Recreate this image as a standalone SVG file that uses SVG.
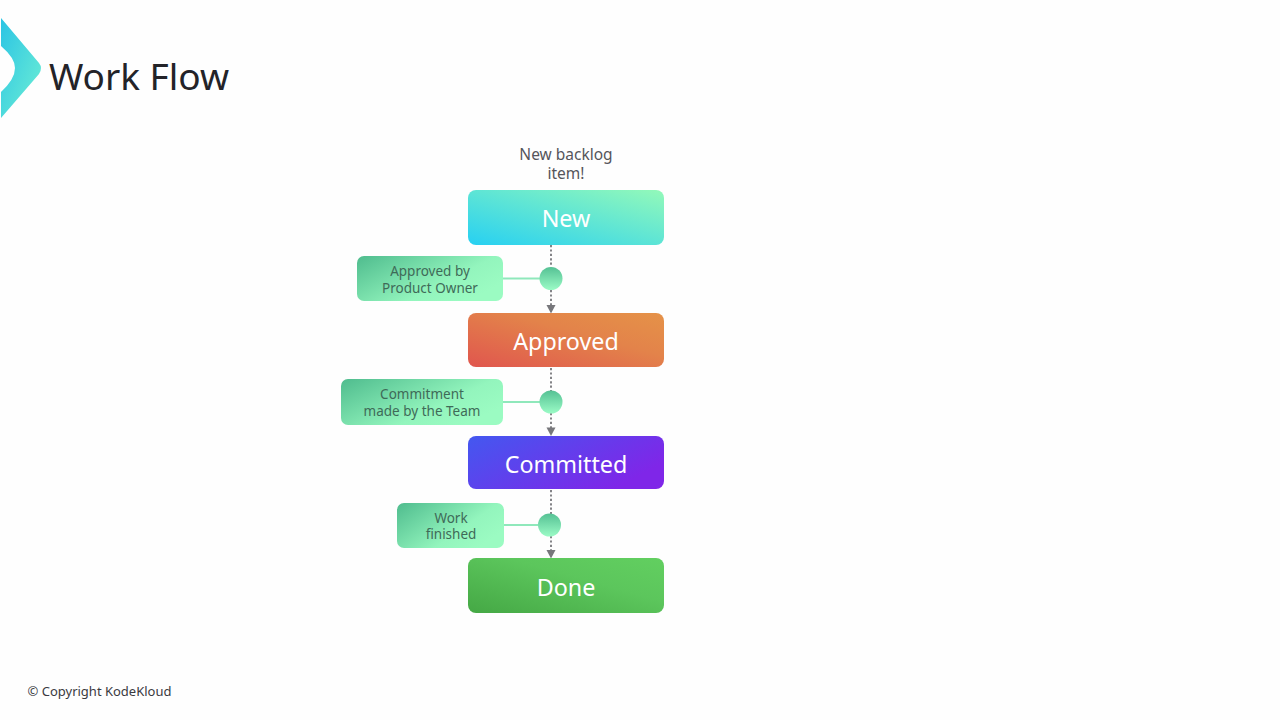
<svg xmlns="http://www.w3.org/2000/svg" width="1280" height="720" viewBox="0 0 1280 720">
<style>
text{font-family:"Noto Sans","Open Sans","DejaVu Sans",sans-serif;text-anchor:middle}
.st{fill:#fff;font-size:23.300px}
.lb{fill:#3f6a58;font-size:13.500px}
.dot{stroke:#77777b;stroke-width:1.800;stroke-dasharray:2.200 2.200;fill:none}
.tie{stroke:#8fe8bb;stroke-width:2;fill:none}
.cir{fill:url(#gc)}
.tag{fill:url(#gt)}
.ah{fill:#77777b}
</style>
<defs>
<linearGradient id="gl" x1="0" y1="0" x2="1" y2="1"><stop offset="0" stop-color="#2bc4e4"/><stop offset="1" stop-color="#6ff0d4"/></linearGradient>
<linearGradient id="gn" x1="0" y1="1" x2="1" y2="0"><stop offset="0" stop-color="#27d0f2"/><stop offset="1" stop-color="#93f9b9"/></linearGradient>
<linearGradient id="ga" x1="0" y1="1" x2="1" y2="0"><stop offset="0" stop-color="#e0564e"/><stop offset="0.6" stop-color="#e3834a"/><stop offset="1" stop-color="#e59248"/></linearGradient>
<linearGradient id="gm" x1="0" y1="0" x2="1" y2="0.5"><stop offset="0" stop-color="#4358f0"/><stop offset="1" stop-color="#7f26e8"/></linearGradient>
<linearGradient id="gd" x1="0" y1="1" x2="1" y2="0"><stop offset="0" stop-color="#45a845"/><stop offset="0.6" stop-color="#5cc65c"/><stop offset="1" stop-color="#62cf60"/></linearGradient>
<linearGradient id="gt" x1="0" y1="0" x2="1" y2="0.6"><stop offset="0" stop-color="#4fbc8e"/><stop offset="0.7" stop-color="#93f5bd"/><stop offset="1" stop-color="#9bfbc2"/></linearGradient>
<linearGradient id="gc" x1="0" y1="0" x2="0" y2="1"><stop offset="0" stop-color="#55c194"/><stop offset="1" stop-color="#9bfbc6"/></linearGradient>
</defs>
<rect width="1280" height="720" fill="#fefefe"/>
<path id="logo" d="M1 18 L39 63 Q43 68 39 74 L1 118 V92 Q15 79 15 68 Q15 58 1 46Z" fill="url(#gl)"/>
<text id="title" x="139" y="90" style="font-size:37px;fill:#232328">Work Flow</text>
<text id="note" style="font-size:15.500px;fill:#55555b"><tspan x="566" y="160">New backlog</tspan><tspan x="566" y="179">item!</tspan></text>
<g id="connectors">
<path class="dot" d="M551 245V267"/><path class="dot" d="M551 290V306"/><path class="ah" d="M546.500 305H555.500L551 313.500Z"/>
<path class="dot" d="M551 368V391"/><path class="dot" d="M551 413V428"/><path class="ah" d="M546.500 427.500H555.500L551 436Z"/>
<path class="dot" d="M551 490V514"/><path class="dot" d="M551 536V550"/><path class="ah" d="M546.500 550H555.500L551 558.500Z"/>
<path class="tie" d="M503 278.500H540"/><path class="tie" d="M503 402H540"/><path class="tie" d="M504 525H538"/>
</g>
<g id="node-new"><rect x="468" y="190" width="196" height="55" rx="8" fill="url(#gn)"/><text class="st" x="566" y="226.500">New</text></g>
<g id="node-approved"><rect x="468" y="313" width="196" height="54" rx="8" fill="url(#ga)"/><text class="st" x="566" y="350">Approved</text></g>
<g id="node-committed"><rect x="468" y="436" width="196" height="53" rx="8" fill="url(#gm)"/><text class="st" x="566" y="472.500">Committed</text></g>
<g id="node-done"><rect x="468" y="558" width="196" height="55" rx="8" fill="url(#gd)"/><text class="st" x="566" y="595.500">Done</text></g>
<g id="tag-po"><rect class="tag" x="357" y="256" width="146" height="45" rx="7"/><text class="lb"><tspan x="430" y="276">Approved by</tspan><tspan x="430" y="292.500">Product Owner</tspan></text></g>
<g id="tag-team"><rect class="tag" x="341" y="379" width="162" height="46" rx="7"/><text class="lb"><tspan x="422" y="399">Commitment</tspan><tspan x="422" y="416">made by the Team</tspan></text></g>
<g id="tag-work"><rect class="tag" x="397" y="503" width="107" height="45" rx="7"/><text class="lb"><tspan x="451" y="522.500">Work</tspan><tspan x="451" y="539">finished</tspan></text></g>
<g id="dot-1"><circle class="cir" cx="551" cy="278.500" r="11.500"/></g>
<g id="dot-2"><circle class="cir" cx="551" cy="402" r="11.500"/></g>
<g id="dot-3"><circle class="cir" cx="549.500" cy="525" r="11.500"/></g>
<text id="copyright" x="99.500" y="696" style="font-size:13px;fill:#3a3a3f">© Copyright KodeKloud</text>
</svg>
